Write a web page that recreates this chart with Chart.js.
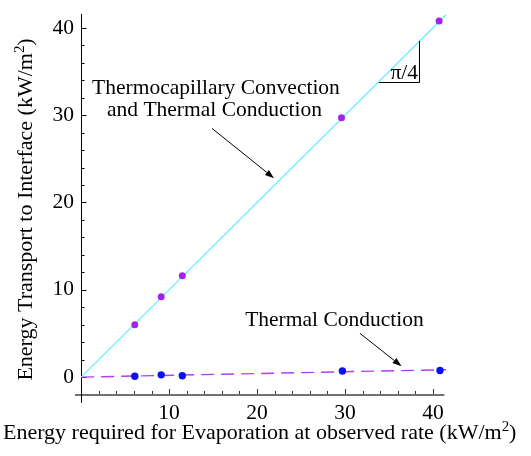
<!DOCTYPE html>
<html><head><meta charset="utf-8">
<script src="https://cdn.jsdelivr.net/npm/chart.js@4/dist/chart.umd.min.js"></script>
<style>html,body{margin:0;padding:0;background:#fff;}</style>
</head><body>
<canvas id="c" width="531" height="456"></canvas>
<script>
// ---- data ----
const convX = [6.1, 9.1, 11.5, 29.6, 40.7];   // thermocapillary convection + conduction
const convY = [6.0, 9.2, 11.6, 29.7, 40.8];
const condX = [6.1, 9.1, 11.5, 29.7, 40.8];   // thermal conduction only
const condY = [0.1, 0.26, 0.15, 0.7, 0.75];
const fitX = [0, 41.5];
const convFitY = [0, 41.5];
const condFitY = [0, 0.85];
const xTickLabels = [10, 20, 30, 40];
const yTickLabels = [0, 10, 20, 30, 40];
const minorStep = 2;
const xTitle = ['Energy required for Evaporation at observed rate (kW/m', '2', ')'];
const yTitle = ['Energy Transport to Interface (kW/m', '2', ')'];

const FONT = '"Liberation Serif", "Times New Roman", serif';
const FS = 21.5;
const TFS = 22;
const pairs = (xs, ys) => xs.map((x, i) => ({x, y: ys[i]}));

// text with superscript middle part, centered on (0,0) baseline
function drawSupText(ctx, parts, size) {
  const f = size + 'px ' + FONT, fs = (size * 0.68) + 'px ' + FONT;
  ctx.font = f; const w0 = ctx.measureText(parts[0]).width, w2 = ctx.measureText(parts[2]).width;
  ctx.font = fs; const w1 = ctx.measureText(parts[1]).width;
  let x = -(w0 + w1 + w2) / 2;
  ctx.textAlign = 'left'; ctx.textBaseline = 'alphabetic';
  ctx.font = f; ctx.fillText(parts[0], x, 0); x += w0;
  ctx.font = fs; ctx.fillText(parts[1], x, -size * 0.36); x += w1;
  ctx.font = f; ctx.fillText(parts[2], x, 0);
}

const axesPlugin = {
  id: 'axes',
  beforeDatasetsDraw(chart) {
    const {ctx, chartArea: a, scales: {x: xs, y: ys}} = chart;
    const x0 = Math.round(xs.getPixelForValue(0)) + 0.5;
    const yb = Math.round(a.bottom);
    ctx.save();
    ctx.strokeStyle = '#707070'; ctx.lineWidth = 2;
    ctx.beginPath(); ctx.moveTo(a.left, yb); ctx.lineTo(a.right, yb); ctx.stroke();
    ctx.lineWidth = 1; ctx.strokeStyle = '#333';
    ctx.beginPath();
    for (let v = minorStep; v <= xs.max; v += minorStep) {
      const px = Math.round(xs.getPixelForValue(v)) + 0.5;
      const len = v % 10 === 0 ? 5 : 3;
      ctx.moveTo(px, yb - 1); ctx.lineTo(px, yb - 1 - len);
    }
    ctx.stroke();
    ctx.strokeStyle = '#000'; ctx.lineWidth = 1;
    ctx.beginPath(); ctx.moveTo(x0, a.top); ctx.lineTo(x0, yb + 8); ctx.stroke();
    ctx.beginPath();
    for (let v = 0; v <= ys.max; v += minorStep) {
      const py = Math.round(ys.getPixelForValue(v)) + 0.5;
      const len = v % 10 === 0 ? 5 : 3;
      ctx.moveTo(x0, py); ctx.lineTo(x0 + len, py);
    }
    ctx.stroke();
    ctx.restore();
  }
};

const notesPlugin = {
  id: 'notes',
  afterDraw(chart) {
    const {ctx, chartArea: a, scales: {x: xs, y: ys}} = chart;
    const P = (x, y) => [xs.getPixelForValue(x), ys.getPixelForValue(y)];
    ctx.save();
    ctx.fillStyle = '#000'; ctx.strokeStyle = '#000';
    // axis titles
    ctx.save(); ctx.translate((a.left + a.right) / 2, 439); drawSupText(ctx, xTitle, TFS); ctx.restore();
    ctx.save(); ctx.translate(31.5, (a.top + a.bottom) / 2 + 5); ctx.rotate(-Math.PI / 2); drawSupText(ctx, yTitle, TFS); ctx.restore();
    // annotations
    ctx.font = FS + 'px ' + FONT;
    ctx.textBaseline = 'alphabetic';
    ctx.textAlign = 'center';
    let p = P(15.33, 32.4); ctx.fillText('Thermocapillary Convection', p[0], p[1]);
    p = P(15.16, 29.86); ctx.fillText('and Thermal Conduction', p[0], p[1]);
    p = P(28.8, 5.85); ctx.fillText('Thermal Conduction', p[0], p[1]);
    ctx.textAlign = 'right';
    p = P(38.3, 34.16); ctx.fillText('\u03C0/4', p[0], p[1]);
    ctx.lineWidth = 1;
    const c1 = P(33.85, 33.85), c2 = P(38.4, 33.85), c3 = P(38.4, 38.5);
    ctx.beginPath();
    ctx.moveTo(c1[0], Math.round(c1[1]) + 0.5); ctx.lineTo(Math.round(c2[0]) + 0.5, Math.round(c2[1]) + 0.5);
    ctx.lineTo(Math.round(c3[0]) + 0.5, c3[1]);
    ctx.stroke();
    const arrow = (s0, t0) => {
      const s = P(s0[0], s0[1]), t = P(t0[0], t0[1]);
      const ang = Math.atan2(t[1] - s[1], t[0] - s[0]);
      const L = 9, W = 3.2;
      const bx = t[0] - L * Math.cos(ang), by = t[1] - L * Math.sin(ang);
      ctx.beginPath(); ctx.moveTo(s[0], s[1]); ctx.lineTo(bx, by); ctx.stroke();
      ctx.beginPath();
      ctx.moveTo(t[0], t[1]);
      ctx.lineTo(bx + W * Math.sin(ang), by - W * Math.cos(ang));
      ctx.lineTo(bx - W * Math.sin(ang), by + W * Math.cos(ang));
      ctx.closePath(); ctx.fill();
    };
    arrow([14.87, 28.49], [21.92, 22.79]);
    arrow([31.7, 5.01], [36.42, 1.25]);
    ctx.restore();
  }
};

new Chart(document.getElementById('c'), {
  type: 'scatter',
  data: {
    datasets: [
      { data: pairs(convX, convY), backgroundColor: '#a322f0', borderColor: '#a322f0', pointRadius: 3.5, borderWidth: 0, showLine: false },
      { data: pairs(condX, condY), backgroundColor: '#0a12f2', borderColor: '#0a12f2', pointRadius: 3.7, borderWidth: 0, showLine: false },
      { data: pairs(fitX, convFitY), showLine: true, borderColor: '#66f2f8', borderWidth: 1.3, pointRadius: 0, clip: false },
      { data: pairs(fitX, condFitY), showLine: true, borderColor: '#b23ef2', borderWidth: 1.4, borderDash: [13, 7], pointRadius: 0, clip: false }
    ]
  },
  options: {
    responsive: false, animation: false, devicePixelRatio: 1,
    layout: { padding: { left: 0, right: 86.6, top: 12, bottom: 0 } },
    plugins: { legend: { display: false }, tooltip: { enabled: false } },
    scales: {
      x: {
        type: 'linear', min: -0.7, max: 41.3,
        grid: { display: false, drawTicks: false }, border: { display: false },
        afterBuildTicks: s => { s.ticks = xTickLabels.map(v => ({value: v})); },
        afterFit: s => { s.height = 61; },
        ticks: { color: '#000', padding: 5, maxRotation: 0, autoSkip: false, font: { family: FONT, size: FS } },
        title: { display: false }
      },
      y: {
        type: 'linear', min: -2.05, max: 41.6,
        grid: { display: false, drawTicks: false }, border: { display: false },
        afterBuildTicks: s => { s.ticks = yTickLabels.map(v => ({value: v})); },
        afterFit: s => { s.width = 75; },
        ticks: { color: '#000', padding: 1, autoSkip: false, font: { family: FONT, size: FS } },
        title: { display: false }
      }
    }
  },
  plugins: [axesPlugin, notesPlugin]
});
</script>
</body></html>
